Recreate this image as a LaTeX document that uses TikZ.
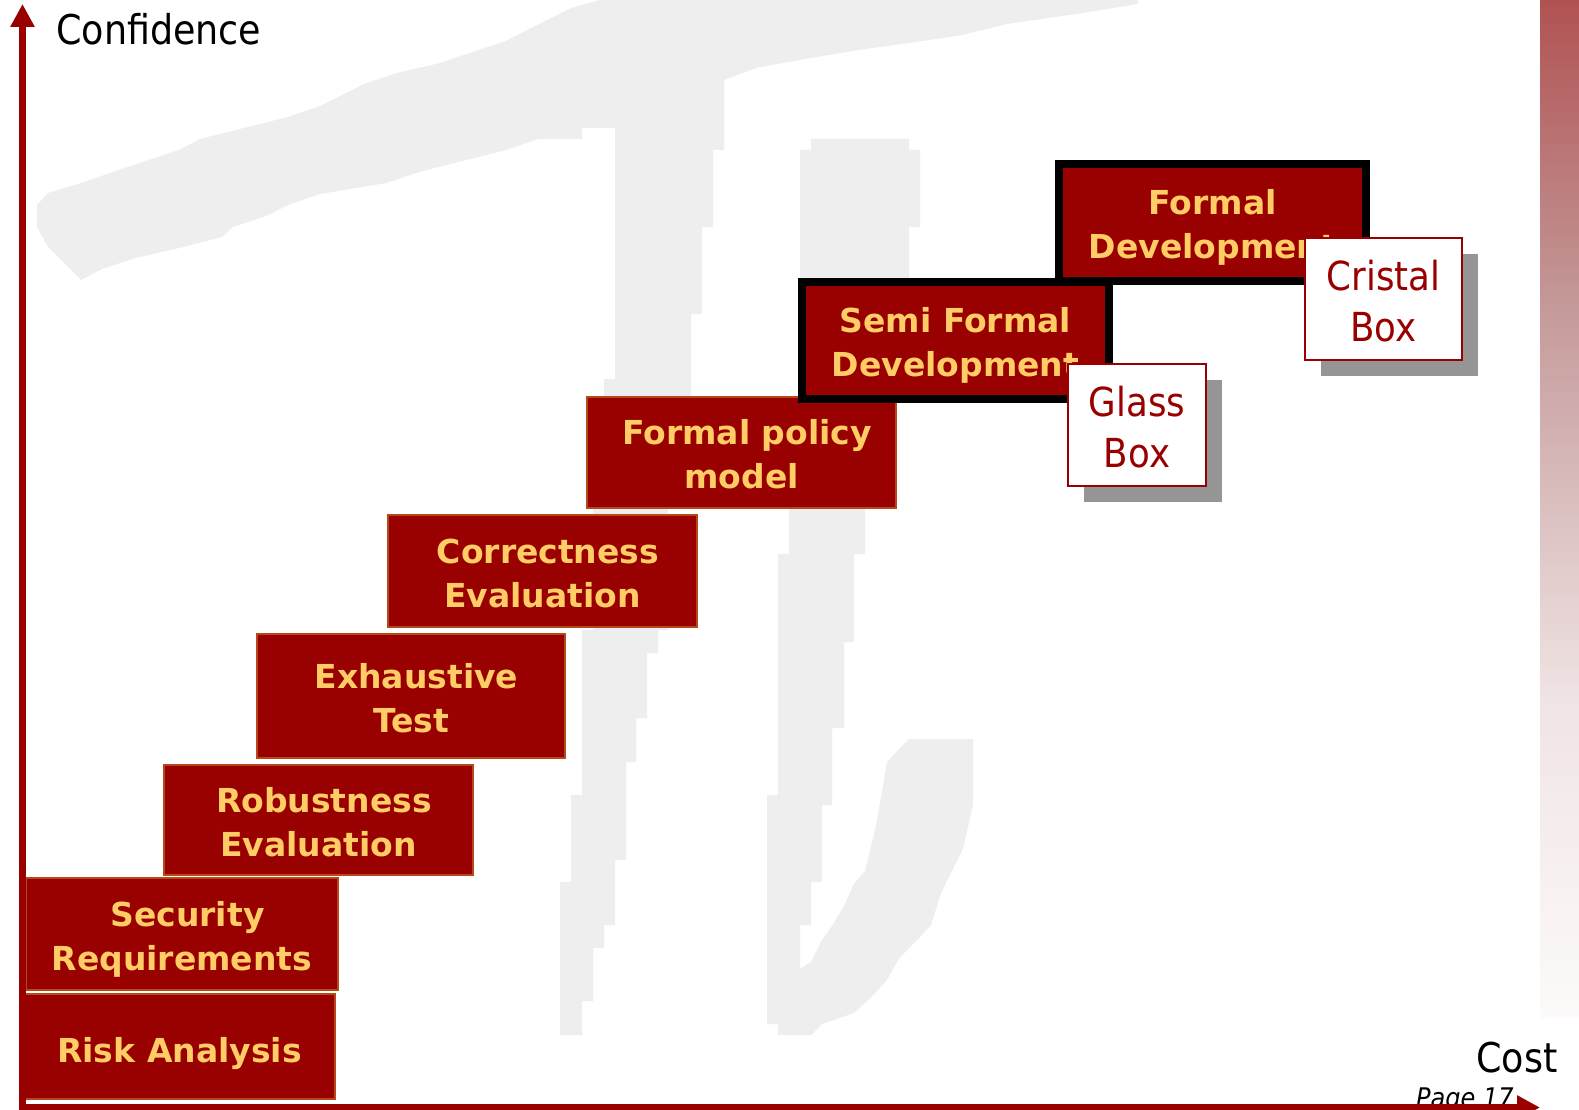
\documentclass[tikz,border=0pt]{standalone}
\usepackage{fontspec}
\usetikzlibrary{arrows.meta,shadows}

\newfontfamily\labelfont{DejaVu Sans}
\newfontfamily\axisfont[FakeStretch=0.89]{DejaVu Sans}

\definecolor{boxred}{HTML}{990000}
\definecolor{boxedge}{HTML}{B8481A}
\definecolor{labelgold}{HTML}{FFCC66}
\definecolor{markgray}{HTML}{EEEEEE}
\definecolor{shadowgray}{HTML}{959595}
\definecolor{axisred}{HTML}{990000}
\definecolor{stripA}{HTML}{B05252}
\definecolor{stripB}{HTML}{C49898}
\definecolor{stripC}{HTML}{F0E4E4}
\definecolor{stripD}{HTML}{FDFAFA}

% fading band on the right edge (top dark rose, bottom almost white)
\pgfdeclareverticalshading{stripfade}{100bp}{color(0bp)=(stripD); color(25bp)=(stripD); color(40.6bp)=(stripC); color(60.2bp)=(stripB); color(75bp)=(stripA); color(100bp)=(stripA)}

% leading indent used on the first line of some step labels
\newcommand{\leadgap}{\hspace*{11pt}}

% two-line labels: the text box sits on its last baseline, so its
% height/depth are fixed to centre both lines inside the box
\tikzset{
  stepbox/.style={draw=boxedge, line width=1.2pt, fill=boxred, text=labelgold,
    inner sep=0pt, align=center,
    font=\labelfont\bfseries\fontsize{33}{44}\selectfont,
    text height=76pt, text depth=4pt},
  framedbox/.style={stepbox, draw=black, line width=8pt},
  viewbox/.style={draw=boxred, line width=2pt, fill=white, text=boxred,
    inner sep=0pt, align=center,
    font=\axisfont\fontsize{40}{51}\selectfont,
    text height=86pt, text depth=2pt,
    drop shadow={shadow xshift=16pt, shadow yshift=-16pt, fill=shadowgray, opacity=1, draw=none}},
  axislabel/.style={inner sep=0pt, text=black, font=\axisfont\fontsize{41}{49}\selectfont},
  pagelabel/.style={inner sep=0pt, text=black, font=\axisfont\itshape\fontsize{27}{32}\selectfont},
  axisline/.style={draw=axisred, line width=7.5pt, line join=miter,
    {Triangle[length=23pt,width=23pt]}-{Triangle[length=23pt,width=23pt]}}
}

\begin{document}
\begin{tikzpicture}[x=1pt,y=-1pt]
\useasboundingbox (0,0) rectangle (1579,1110);
\fill[white] (0,0) rectangle (1579,1110);

% right-hand colour band
\path[shading=stripfade] (1540,0) rectangle (1579,1017);

% light grey brush-stroke watermark: top stroke with left descending stroke
\fill[markgray] (37,227) -- (37,205) -- (48,193) -- (81,183) -- (113,172) -- (146,161)
  -- (179,150) -- (200,139) -- (244,128) -- (288,117) -- (320,106) -- (342,95) -- (364,84)
  -- (397,73) -- (440,63) -- (473,52) -- (506,41) -- (527,30) -- (549,19) -- (571,8)
  -- (600,0) -- (1138,0) -- (1138,4) -- (1083,13) -- (1007,24) -- (962,35) -- (909,43)
  -- (865,49) -- (811,58) -- (756,68) -- (724,80) -- (724,150) -- (713,150) -- (713,227)
  -- (702,227) -- (702,314) -- (691,314) -- (691,400) -- (668,509) -- (668,630)
  -- (658,630) -- (658,653) -- (647,653) -- (647,718) -- (636,718) -- (636,762)
  -- (626,762) -- (626,860) -- (615,860) -- (615,925) -- (604,925) -- (604,948)
  -- (593,948) -- (593,1001) -- (582,1001) -- (582,1035) -- (560,1035) -- (560,882)
  -- (571,882) -- (571,795) -- (582,795) -- (582,630) -- (593,630) -- (593,509)
  -- (604,509) -- (604,379) -- (615,379) -- (615,128) -- (582,128) -- (582,139)
  -- (538,139) -- (506,150) -- (462,161) -- (419,172) -- (386,183) -- (320,194)
  -- (288,205) -- (266,216) -- (233,227) -- (222,237) -- (179,248) -- (135,258)
  -- (102,269) -- (81,280) -- (70,269) -- (59,258) -- (48,247) -- cycle;
% right descending stroke with its hook
\fill[markgray] (811,139) -- (909,139) -- (909,150) -- (920,150) -- (920,227) -- (909,227)
  -- (909,290) -- (896,403) -- (865,509) -- (865,554) -- (854,554) -- (854,642)
  -- (844,642) -- (844,728) -- (832,728) -- (832,805) -- (822,805) -- (822,882)
  -- (811,882) -- (811,925) -- (800,925) -- (800,969) -- (811,962) -- (822,940)
  -- (832,926) -- (844,906) -- (854,884) -- (865,871) -- (876,826) -- (887,762)
  -- (898,750) -- (909,739) -- (973,739) -- (973,805) -- (963,849) -- (952,871)
  -- (941,893) -- (931,925) -- (920,937) -- (909,948) -- (898,960) -- (887,980)
  -- (876,992) -- (865,1003) -- (854,1013) -- (822,1024) -- (811,1035) -- (778,1035)
  -- (778,1024) -- (767,1024) -- (767,795) -- (778,795) -- (778,554) -- (789,554)
  -- (789,509) -- (800,403) -- (800,150) -- (811,150) -- cycle;

% staircase of assurance steps
\node[stepbox, text height=31pt, text depth=0pt, minimum width=311pt, minimum height=105pt] (risk) at (179.5,1046.5) {Risk Analysis};
\node[stepbox, minimum width=312pt, minimum height=112pt] (secreq) at (182,934) {\leadgap Security\\Requirements};
\node[stepbox, minimum width=309pt, minimum height=110pt] (robust) at (318.5,820) {\leadgap Robustness\\Evaluation};
\node[stepbox, minimum width=308pt, minimum height=124pt] (exhaust) at (411,696) {\leadgap Exhaustive\\Test};
\node[stepbox, minimum width=309pt, minimum height=112pt] (correct) at (542.5,571) {\leadgap Correctness\\Evaluation};
\node[stepbox, minimum width=309pt, minimum height=111pt] (policy) at (741.5,452.5) {\leadgap Formal policy\\model};
\node[framedbox, minimum width=307pt, minimum height=117pt] (formaldev) at (1212.5,222.5) {Formal\\Development};
\node[framedbox, minimum width=307pt, minimum height=117pt] (semiformal) at (955.5,340.5) {Semi Formal\\Development};

% white boxes with drop shadows
\node[viewbox, minimum width=138pt, minimum height=122pt] (glass) at (1137,425) {Glass\\Box};
\node[viewbox, minimum width=157pt, minimum height=122pt] (cristal) at (1383.5,299) {Cristal\\Box};

% page number, partly under the cost axis
\node[pagelabel, anchor=base west] (page) at (1416,1107) {Page 17};

% axes
\coordinate (ytop) at (22.5,4);
\coordinate (corner) at (22.5,1107.5);
\coordinate (xend) at (1540,1107.5);
\draw[axisline] (ytop) -- (corner) -- (xend);

\node[axislabel, anchor=base west] (conf) at (56,45) {Confidence};
\node[axislabel, anchor=base west] (cost) at (1476,1072) {Cost};
\end{tikzpicture}
\end{document}
